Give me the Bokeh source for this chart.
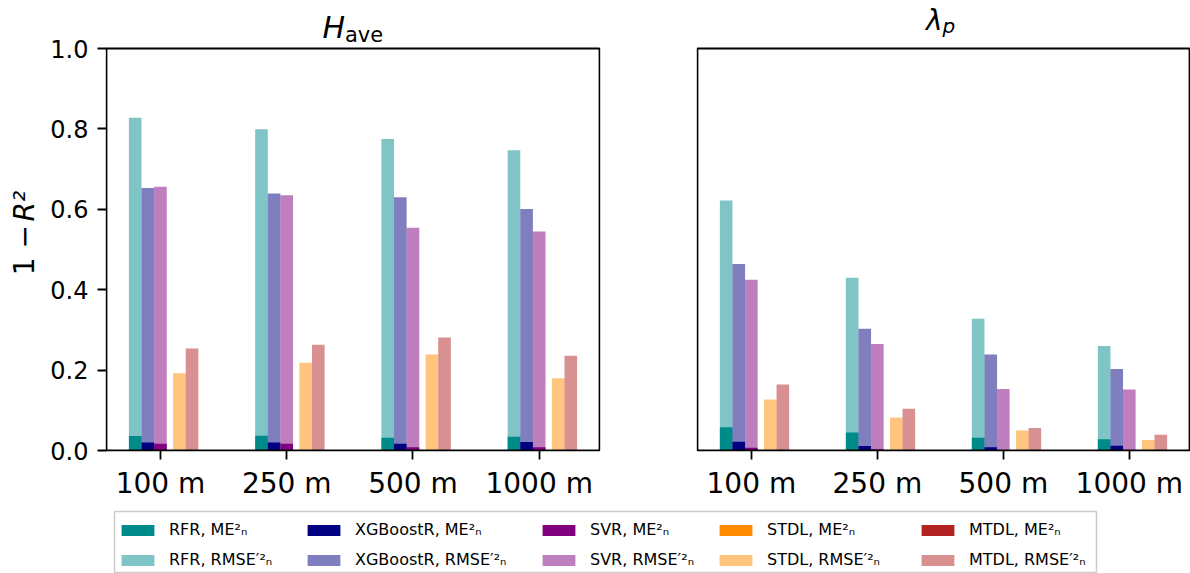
import numpy as np
from bokeh.plotting import figure
from bokeh.layouts import column, row
from bokeh.models import (Range1d, FixedTicker, PrintfTickFormatter, Label,
                          Legend, LegendItem, ColumnDataSource)
from bokeh.embed import file_html
from bokeh.resources import INLINE

# ---------------- data ----------------
categories = ["100 m", "250 m", "500 m", "1000 m"]
models = ["RFR", "XGBoostR", "SVR", "STDL", "MTDL"]
colors = ["#008b8b", "#000080", "#800080", "#ff8c00", "#b22222"]

# H_ave panel
h_me = {
    "RFR":      [0.036, 0.037, 0.032, 0.034],
    "XGBoostR": [0.020, 0.020, 0.017, 0.021],
    "SVR":      [0.017, 0.017, 0.008, 0.008],
    "STDL":     [0.0, 0.0, 0.0, 0.0],
    "MTDL":     [0.0, 0.0, 0.0, 0.0],
}
h_rmse = {
    "RFR":      [0.828, 0.799, 0.775, 0.747],
    "XGBoostR": [0.653, 0.639, 0.630, 0.601],
    "SVR":      [0.656, 0.635, 0.554, 0.545],
    "STDL":     [0.192, 0.218, 0.239, 0.180],
    "MTDL":     [0.254, 0.263, 0.281, 0.236],
}
# lambda_p panel
l_me = {
    "RFR":      [0.058, 0.045, 0.032, 0.028],
    "XGBoostR": [0.022, 0.011, 0.008, 0.012],
    "SVR":      [0.007, 0.003, 0.0, 0.0],
    "STDL":     [0.0, 0.0, 0.0, 0.0],
    "MTDL":     [0.0, 0.0, 0.0, 0.0],
}
l_rmse = {
    "RFR":      [0.622, 0.430, 0.328, 0.260],
    "XGBoostR": [0.464, 0.303, 0.239, 0.203],
    "SVR":      [0.425, 0.265, 0.153, 0.152],
    "STDL":     [0.127, 0.082, 0.050, 0.026],
    "MTDL":     [0.164, 0.104, 0.056, 0.039],
}

# bar layout (style)
offsets = [-0.2, -0.1, 0.0, 0.15, 0.25]
bar_w = 0.1
FONT = "DejaVu Sans"
X0, X1 = -0.4275, 3.4775          # axes limits
Y0, Y1 = 0.0, 1.0
EX = 1 / 126.25                    # one pixel of slack so the box line is not clipped
EY = 1 / 402.0
PLOT_H = 508


def make_panel(me, rmse, width, left, right, show_y):
    p = figure(width=width, height=PLOT_H, output_backend="svg", toolbar_location=None,
               x_range=Range1d(X0 - EX, X1 + EX),
               y_range=Range1d(Y0 - EY, Y0 - EY + (PLOT_H - 57) / 402.0),
               min_border_left=left, min_border_right=right,
               min_border_top=0, min_border_bottom=57,
               y_axis_location="left" if show_y else None)
    p.grid.visible = False
    p.outline_line_color = None
    idx = np.arange(len(categories))
    for m, c, off in zip(models, colors, offsets):
        src = ColumnDataSource(dict(x=idx + off, me=me[m], rmse=rmse[m]))
        p.vbar(x="x", top="rmse", width=bar_w, source=src, fill_color=c,
               fill_alpha=0.5, line_color=None)
        p.vbar(x="x", top="me", width=bar_w, source=src, fill_color=c,
               fill_alpha=1.0, line_color=None)
    # axes box
    p.quad(left=[X0], right=[X1], bottom=[Y0], top=[Y1], fill_color=None,
           line_color="black", line_width=1.8)
    xa = p.xaxis[0]
    xa.ticker = FixedTicker(ticks=list(range(len(categories))))
    xa.major_label_overrides = {i: c for i, c in enumerate(categories)}
    xa.axis_line_color = None
    xa.major_tick_out = 8
    xa.major_tick_in = 1
    xa.minor_tick_line_color = None
    xa.major_tick_line_width = 1.8
    xa.major_tick_line_color = "black"
    xa.major_label_text_font = FONT
    xa.major_label_text_font_size = "28px"
    xa.major_label_text_color = "black"
    xa.major_label_standoff = 7
    if show_y:
        ya = p.yaxis[0]
        ya.ticker = FixedTicker(ticks=[0.0, 0.2, 0.4, 0.6, 0.8, 1.0])
        ya.formatter = PrintfTickFormatter(format="%.1f")
        ya.axis_line_color = None
        ya.major_tick_out = 8
        ya.major_tick_in = 1
        ya.minor_tick_line_color = None
        ya.major_tick_line_width = 1.8
        ya.major_tick_line_color = "black"
        ya.major_label_text_font = FONT
        ya.major_label_text_font_size = "24px"
        ya.major_label_text_color = "black"
        ya.major_label_standoff = 9
    return p


def blank(width, height, **kw):
    f = figure(width=width, height=height, output_backend="svg", toolbar_location=None,
               x_range=Range1d(0, width), y_range=Range1d(0, height),
               x_axis_location=None, y_axis_location=None,
               min_border_left=0, min_border_right=0, min_border_top=0,
               min_border_bottom=0, **kw)
    f.grid.visible = False
    f.outline_line_color = None
    return f


YLAB_W = 44
p1 = make_panel(h_me, h_rmse, 565, 61, 9, True)
p2 = make_panel(l_me, l_rmse, 581, 87, 0, False)

xmid = (X0 + X1) / 2
# titles (inside the frame area above y = 1)
p1.add_layout(Label(x=xmid, y=Y1, x_offset=-8, y_offset=20.9, text="H", text_font=FONT,
                    text_font_style="italic", text_font_size="30px", text_align="right",
                    text_baseline="middle", text_color="black"))
p1.add_layout(Label(x=xmid, y=Y1, x_offset=-8, y_offset=14.0, text="ave", text_font=FONT,
                    text_font_size="21px", text_align="left", text_baseline="middle",
                    text_color="black"))
p2.add_layout(Label(x=xmid, y=Y1, x_offset=-1, y_offset=28.0, text="λ", text_font=FONT,
                    text_font_style="italic", text_font_size="28px", text_align="right",
                    text_baseline="middle", text_color="black"))
p2.add_layout(Label(x=xmid, y=Y1, x_offset=-1, y_offset=22.9, text="p", text_font=FONT,
                    text_font_style="italic", text_font_size="20px", text_align="left",
                    text_baseline="middle", text_color="black"))

# y-axis label strip: "1 − R²"
yl = blank(YLAB_W, PLOT_H)
yl.add_layout(Label(x=24, y=255, angle=np.pi / 2, text="1 −",
                    text_font=FONT, text_font_size="28px", text_align="right",
                    text_baseline="middle", text_color="black"))
yl.add_layout(Label(x=24, y=259, angle=np.pi / 2, text="R²",
                    text_font=FONT, text_font_style="italic", text_font_size="28px",
                    text_align="left", text_baseline="middle", text_color="black"))

# legend strip
pl = figure(width=1190, height=65, output_backend="svg", toolbar_location=None,
            x_range=Range1d(0, 1), y_range=Range1d(0, 1),
            x_axis_location=None, y_axis_location=None,
            min_border_left=114, min_border_right=94, min_border_top=3, min_border_bottom=0)
pl.grid.visible = False
pl.outline_line_color = "#cccccc"
pl.outline_line_width = 1.5

col_x = [3, 189, 424, 601, 803]
for m, c, cx in zip(models, colors, col_x):
    proxy = ColumnDataSource(dict(x=[np.nan], top=[np.nan]))
    r_me = pl.vbar(x="x", top="top", width=0.1, source=proxy, fill_color=c,
                   fill_alpha=1.0, line_color=None)
    r_rm = pl.vbar(x="x", top="top", width=0.1, source=proxy, fill_color=c,
                   fill_alpha=0.5, line_color=None)
    leg = Legend(items=[LegendItem(label=f"{m}, ME²ₙ", renderers=[r_me]),
                        LegendItem(label=f"{m}, RMSE′²ₙ", renderers=[r_rm])],
                 location=(cx, 3.7), orientation="vertical",
                 padding=0, margin=0, spacing=11,
                 glyph_width=41, glyph_height=14, label_height=14,
                 label_standoff=11, border_line_color=None,
                 background_fill_alpha=0.0,
                 label_text_font=FONT, label_text_font_size="16px",
                 label_text_color="black")
    pl.add_layout(leg)

layout = column(row(yl, p1, p2), pl)
open("out.html", "w").write(file_html(layout, INLINE))
